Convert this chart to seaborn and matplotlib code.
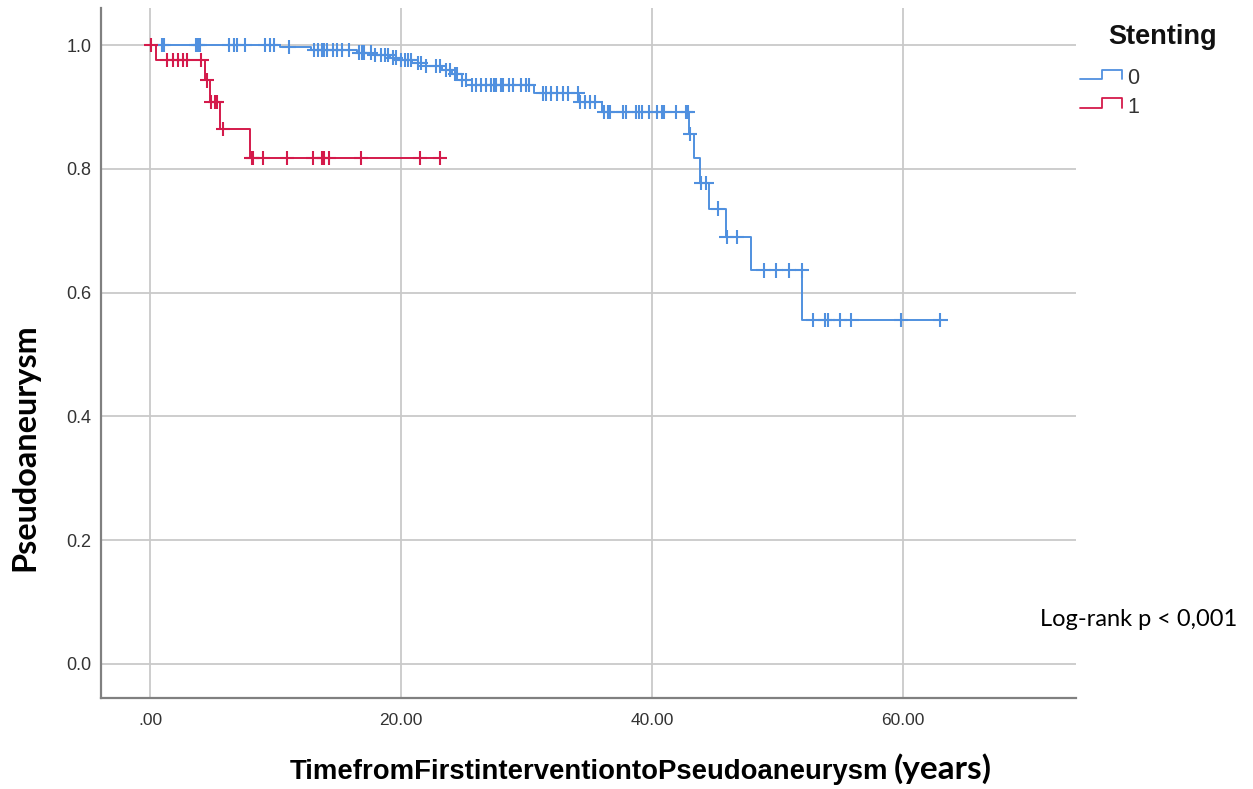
import numpy as np
import pandas as pd
import matplotlib
matplotlib.use("Agg")
import matplotlib.pyplot as plt
from matplotlib.lines import Line2D
import seaborn as sns

# ---- Kaplan-Meier estimates, Stenting = 0 ----
event_t_0 = [0.0, 10.4, 12.8, 16.5, 17.7, 19.1, 19.9, 20.9, 22.0, 23.3, 24.1,
             24.9, 25.7, 30.6, 34.2, 36.0, 42.96, 43.35, 43.85, 44.55, 45.9,
             47.9, 52.0]
surv_0 = [1.0, 0.997, 0.992, 0.988, 0.984, 0.980, 0.976, 0.971, 0.966, 0.960,
          0.953, 0.944, 0.935, 0.922, 0.908, 0.892, 0.856, 0.817, 0.777, 0.736,
          0.690, 0.636, 0.556]
censor_0 = [0.93, 1.11, 3.66, 3.84, 4.0, 6.3, 6.7, 6.9, 7.6, 9.2, 9.6, 9.9,
            11.1, 13.1, 13.4, 13.7, 13.9, 14.1, 14.6, 14.9, 15.3, 15.9, 16.7,
            16.9, 17.05, 17.6, 17.9, 18.4, 18.7, 19.0, 19.4, 19.6, 20.0, 20.3,
            20.55, 20.8, 21.35, 21.6, 22.0, 22.8, 23.1, 23.6, 23.9, 24.3, 24.5,
            24.9, 25.2, 25.7, 26.0, 26.4, 26.8, 27.2, 27.4, 27.6, 28.0, 28.1,
            28.6, 28.9, 29.6, 30.0, 30.2, 31.3, 31.6, 32.0, 32.4, 32.9, 33.3,
            34.1, 34.3, 34.7, 35.1, 35.5, 36.2, 36.5, 36.7, 37.7, 37.9, 38.7,
            39.0, 39.2, 39.8, 40.4, 40.8, 41.0, 41.9, 42.7, 42.85, 43.05, 43.95,
            44.35, 45.3, 45.95, 46.8, 48.9, 49.9, 50.9, 51.95, 52.85, 53.8, 54.0,
            55.0, 55.9, 59.85, 63.0]

# ---- Kaplan-Meier estimates, Stenting = 1 ----
event_t_1 = [0.0, 0.5, 4.4, 4.8, 5.55, 7.95]
surv_1 = [1.0, 0.976, 0.943, 0.908, 0.865, 0.818]
censor_1 = [0.1, 1.33, 1.85, 2.25, 2.65, 2.92, 4.1, 4.55, 4.9, 5.2, 5.35, 5.8,
            8.1, 8.2, 9.0, 10.9, 13.0, 13.7, 13.9, 14.3, 16.8, 21.5, 23.1]

groups = ["0", "1"]
x_ticks = [0, 20, 40, 60]
x_tick_labels = [".00", "20.00", "40.00", "60.00"]
y_ticks = [0.0, 0.2, 0.4, 0.6, 0.8, 1.0]
y_tick_labels = ["0.0", "0.2", "0.4", "0.6", "0.8", "1.0"]

palette = {"0": "#5090df", "1": "#d41a4b"}


def step_frame(times, surv, censors, label):
    """Step curve points (extended to the last follow-up) and censor marks."""
    times = np.asarray(times, float)
    surv = np.asarray(surv, float)
    end = max(censors)
    line = pd.DataFrame({"time": np.append(times, end),
                         "surv": np.append(surv, surv[-1]),
                         "Stenting": label})
    c = np.asarray(censors, float)
    idx = np.searchsorted(times, c, side="right") - 1
    marks = pd.DataFrame({"time": c, "surv": surv[idx], "Stenting": label})
    return line, marks


l0, m0 = step_frame(event_t_0, surv_0, censor_0, groups[0])
l1, m1 = step_frame(event_t_1, surv_1, censor_1, groups[1])
lines = pd.concat([l0, l1], ignore_index=True)
marks = pd.concat([m0, m1], ignore_index=True)

sns.set_style("white")
plt.rcParams["font.family"] = ["Liberation Sans", "DejaVu Sans"]

fig = plt.figure(figsize=(12.53, 7.89), dpi=100)
ax = fig.add_axes([101 / 1253, 91 / 789, 975 / 1253, 690 / 789])

sns.lineplot(data=lines, x="time", y="surv", hue="Stenting", palette=palette,
             estimator=None, sort=False, drawstyle="steps-post", lw=1.4,
             legend=False, ax=ax, zorder=3)
sns.scatterplot(data=marks, x="time", y="surv", hue="Stenting",
                palette=palette, marker="+", s=105, linewidth=1.5,
                legend=False, ax=ax, zorder=4)

ax.set_xlim(-3.9, 73.8)
ax.set_ylim(-0.055, 1.060)
ax.set_xticks(x_ticks)
ax.set_xticklabels(x_tick_labels)
ax.set_yticks(y_ticks)
ax.set_yticklabels(y_tick_labels)
ax.tick_params(axis="both", length=0, labelcolor="#333333")
ax.tick_params(axis="y", pad=7, labelsize=13)
ax.tick_params(axis="x", pad=10.5, labelsize=12.5)
ax.grid(True, color="#c9c9c9", lw=1.3)
ax.set_axisbelow(True)
for side in ("top", "right"):
    ax.spines[side].set_visible(False)
for side in ("left", "bottom"):
    ax.spines[side].set_color("#808080")
    ax.spines[side].set_linewidth(1.6)
ax.set_xlabel("")
ax.set_ylabel("")

# axis titles
fig.text(25 / 1253, 1 - 447 / 789, "Pseudoaneurysm", rotation=90,
         ha="center", va="center", fontsize=23.3, fontweight="bold",
         family=["Lato", "DejaVu Sans"], color="black")
fig.text(888 / 1253, 1 - 779 / 789, "TimefromFirstinterventiontoPseudoaneurysm",
         ha="right", va="baseline", fontsize=19.8, fontweight="bold",
         color="black")
fig.text(894 / 1253, 1 - 779 / 789, "(years)", ha="left", va="baseline",
         fontsize=24, fontweight="bold", family=["Lato", "DejaVu Sans"],
         color="black")

# legend
fig.text(1108 / 1253, 1 - 44 / 789, "Stenting", ha="left", va="baseline",
         fontsize=19.5, fontweight="bold", color="#111111")
for label, y_low, y_high, y_txt in ((groups[0], 79.3, 70.0, 84.0),
                                    (groups[1], 108.3, 98.3, 113.0)):
    xs = np.array([1080, 1101.7, 1101.7, 1121.7, 1121.7]) / 1253
    ys = 1 - np.array([y_low, y_low, y_high, y_high, y_low]) / 789
    fig.add_artist(Line2D(xs, ys, color=palette[label], lw=1.3,
                          transform=fig.transFigure))
    fig.text(1127 / 1253, 1 - y_txt / 789, label, ha="left", va="baseline",
             fontsize=15.5, color="#333333")

fig.text(1040 / 1253, 1 - 626 / 789, "Log-rank p < 0,001", ha="left",
         va="baseline", fontsize=17, family=["Lato", "DejaVu Sans"],
         color="black")

fig.savefig("out.png", dpi=100, facecolor="white")
